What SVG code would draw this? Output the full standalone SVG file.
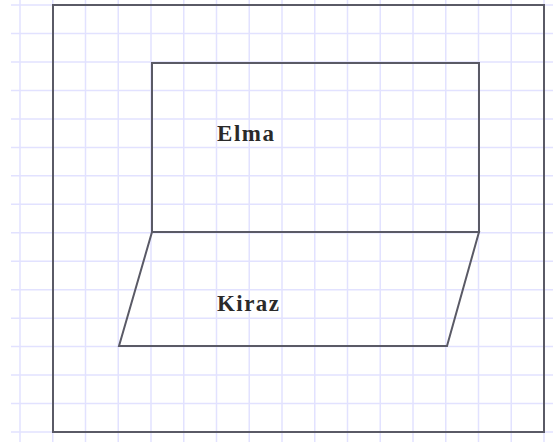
<svg xmlns="http://www.w3.org/2000/svg" width="553" height="442" viewBox="0 0 553 442">
<style>
.grid line{stroke:#e2e2ff;stroke-width:1.5}
.shape{fill:none;stroke:#5a5a66;stroke-width:2;stroke-linejoin:miter}
.lbl{font-family:"Liberation Serif",serif;font-weight:bold;font-size:23px;fill:#2a2a2a}
</style>
<rect width="553" height="442" fill="#ffffff"/>
<g class="grid">
<line x1="20" y1="0" x2="20" y2="442"/>
<line x1="52.75" y1="0" x2="52.75" y2="442"/>
<line x1="85.5" y1="0" x2="85.5" y2="442"/>
<line x1="118.25" y1="0" x2="118.25" y2="442"/>
<line x1="151" y1="0" x2="151" y2="442"/>
<line x1="183.75" y1="0" x2="183.75" y2="442"/>
<line x1="216.5" y1="0" x2="216.5" y2="442"/>
<line x1="249.25" y1="0" x2="249.25" y2="442"/>
<line x1="282" y1="0" x2="282" y2="442"/>
<line x1="314.75" y1="0" x2="314.75" y2="442"/>
<line x1="347.5" y1="0" x2="347.5" y2="442"/>
<line x1="380.25" y1="0" x2="380.25" y2="442"/>
<line x1="413" y1="0" x2="413" y2="442"/>
<line x1="445.75" y1="0" x2="445.75" y2="442"/>
<line x1="478.5" y1="0" x2="478.5" y2="442"/>
<line x1="511.25" y1="0" x2="511.25" y2="442"/>
<line x1="544" y1="0" x2="544" y2="442"/>
<line x1="11" y1="5" x2="553" y2="5"/>
<line x1="11" y1="33.5" x2="553" y2="33.5"/>
<line x1="11" y1="61.9" x2="553" y2="61.9"/>
<line x1="11" y1="90.4" x2="553" y2="90.4"/>
<line x1="11" y1="118.9" x2="553" y2="118.9"/>
<line x1="11" y1="147.4" x2="553" y2="147.4"/>
<line x1="11" y1="175.8" x2="553" y2="175.8"/>
<line x1="11" y1="204.3" x2="553" y2="204.3"/>
<line x1="11" y1="232.8" x2="553" y2="232.8"/>
<line x1="11" y1="261.2" x2="553" y2="261.2"/>
<line x1="11" y1="289.7" x2="553" y2="289.7"/>
<line x1="11" y1="318.2" x2="553" y2="318.2"/>
<line x1="11" y1="346.6" x2="553" y2="346.6"/>
<line x1="11" y1="375.1" x2="553" y2="375.1"/>
<line x1="11" y1="403.6" x2="553" y2="403.6"/>
<line x1="11" y1="432" x2="553" y2="432"/>
</g>
<g id="outer">
<rect class="shape" x="53" y="5" width="491" height="427"/>
</g>
<g id="elma">
<rect class="shape" x="152" y="63" width="327" height="169"/>
<text class="lbl" x="217" y="141" textLength="57" lengthAdjust="spacing">Elma</text>
</g>
<g id="kiraz">
<polygon class="shape" points="152,232 479,232 447,346 119,346"/>
<text class="lbl" x="217" y="311" textLength="62" lengthAdjust="spacing">Kiraz</text>
</g>
<g id="connectors"/>
</svg>
